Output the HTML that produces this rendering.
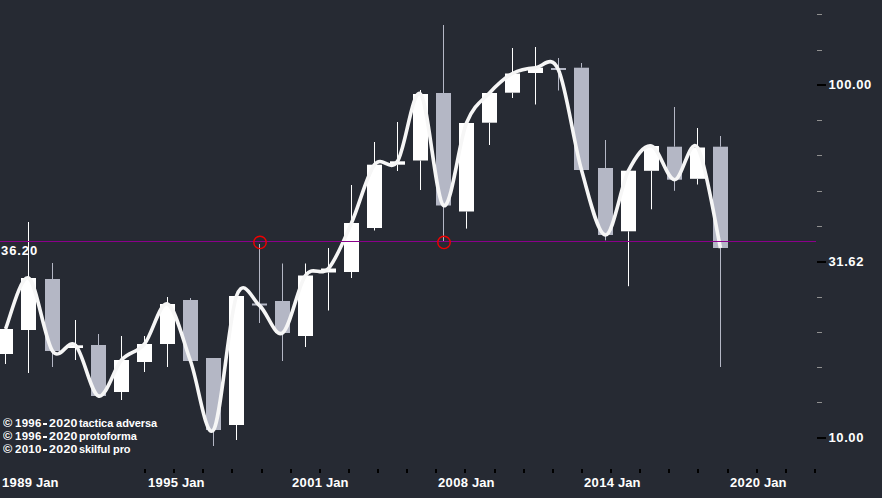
<!DOCTYPE html>
<html><head><meta charset="utf-8"><style>
html,body{margin:0;padding:0;background:#262a33;width:882px;height:498px;overflow:hidden}
body{position:relative;font-family:"Liberation Sans",sans-serif;color:#fff}
svg{position:absolute;left:0;top:0}
.t{position:absolute;font-weight:bold;white-space:nowrap;line-height:1}
.ax{font-size:13px}
.yd{letter-spacing:0.35px}
.yl{font-size:13px;letter-spacing:0.6px}
.cpl{position:absolute;left:0;height:13px;width:200px;font-size:11px;font-weight:bold;line-height:13px}
.cpl span{position:absolute;top:0;white-space:nowrap}
.cpl .dg{letter-spacing:0.3px;transform:scaleX(1.04);transform-origin:0 0}
.cpl .d2{letter-spacing:0.3px;transform:scaleX(1.12)}
.cpl .cs{font-size:12px;font-weight:bold;top:0px;transform:scaleX(1.05);transform-origin:0 0}
.cpl .tx{letter-spacing:-0.1px}
.cpl .ds{position:absolute;top:6px;width:4px;height:2px;background:#fff}
</style></head><body>
<svg width="882" height="498" viewBox="0 0 882 498">
<rect x="5" y="354" width="1" height="10.00" fill="#ffffff"/>
<rect x="-2" y="329" width="15" height="25.00" fill="#ffffff"/>
<rect x="28" y="222" width="1" height="56.00" fill="#ffffff"/>
<rect x="28" y="330" width="1" height="43.00" fill="#ffffff"/>
<rect x="21" y="278" width="15" height="52.00" fill="#ffffff"/>
<rect x="52" y="263" width="1" height="16.00" fill="#b4b7c5"/>
<rect x="52" y="351" width="1" height="16.00" fill="#b4b7c5"/>
<rect x="45" y="279" width="15" height="72.00" fill="#b4b7c5"/>
<rect x="75" y="320" width="1" height="25.30" fill="#ffffff"/>
<rect x="75" y="348" width="1" height="12.00" fill="#ffffff"/>
<rect x="68" y="345.3" width="15" height="2.70" fill="#ffffff"/>
<rect x="98" y="334" width="1" height="11.00" fill="#b4b7c5"/>
<rect x="91" y="345" width="15" height="51.00" fill="#b4b7c5"/>
<rect x="121" y="336" width="1" height="24.00" fill="#ffffff"/>
<rect x="121" y="392" width="1" height="8.00" fill="#ffffff"/>
<rect x="114" y="360" width="15" height="32.00" fill="#ffffff"/>
<rect x="144" y="336" width="1" height="8.00" fill="#ffffff"/>
<rect x="144" y="362" width="1" height="10.00" fill="#ffffff"/>
<rect x="137" y="344" width="15" height="18.00" fill="#ffffff"/>
<rect x="167" y="297" width="1" height="7.00" fill="#ffffff"/>
<rect x="167" y="344" width="1" height="23.00" fill="#ffffff"/>
<rect x="160" y="304" width="15" height="40.00" fill="#ffffff"/>
<rect x="190" y="298" width="1" height="2.00" fill="#b4b7c5"/>
<rect x="183" y="300" width="15" height="61.00" fill="#b4b7c5"/>
<rect x="213" y="430" width="1" height="16.00" fill="#b4b7c5"/>
<rect x="206" y="358" width="15" height="72.00" fill="#b4b7c5"/>
<rect x="236" y="425" width="1" height="15.00" fill="#ffffff"/>
<rect x="229" y="296" width="15" height="129.00" fill="#ffffff"/>
<rect x="259" y="244" width="1" height="59.50" fill="#b4b7c5"/>
<rect x="259" y="305.5" width="1" height="17.50" fill="#b4b7c5"/>
<rect x="252" y="303.5" width="15" height="2.00" fill="#b4b7c5"/>
<rect x="282" y="263.5" width="1" height="37.50" fill="#b4b7c5"/>
<rect x="282" y="333" width="1" height="28.00" fill="#b4b7c5"/>
<rect x="275" y="301" width="15" height="32.00" fill="#b4b7c5"/>
<rect x="305" y="263.5" width="1" height="12.00" fill="#ffffff"/>
<rect x="305" y="336" width="1" height="11.00" fill="#ffffff"/>
<rect x="298" y="275.5" width="15" height="60.50" fill="#ffffff"/>
<rect x="328" y="248" width="1" height="20.50" fill="#ffffff"/>
<rect x="328" y="272.5" width="1" height="38.00" fill="#ffffff"/>
<rect x="321" y="268.5" width="15" height="4.00" fill="#ffffff"/>
<rect x="351" y="185" width="1" height="38.00" fill="#ffffff"/>
<rect x="351" y="272" width="1" height="6.00" fill="#ffffff"/>
<rect x="344" y="223" width="15" height="49.00" fill="#ffffff"/>
<rect x="374" y="142" width="1" height="22.70" fill="#ffffff"/>
<rect x="374" y="228" width="1" height="2.50" fill="#ffffff"/>
<rect x="367" y="164.7" width="15" height="63.30" fill="#ffffff"/>
<rect x="397" y="122" width="1" height="39.30" fill="#ffffff"/>
<rect x="397" y="164.7" width="1" height="6.30" fill="#ffffff"/>
<rect x="390" y="161.3" width="15" height="3.40" fill="#ffffff"/>
<rect x="420" y="90" width="1" height="4.00" fill="#ffffff"/>
<rect x="420" y="160.5" width="1" height="29.50" fill="#ffffff"/>
<rect x="413" y="94" width="15" height="66.50" fill="#ffffff"/>
<rect x="443" y="25" width="1" height="68.00" fill="#b4b7c5"/>
<rect x="443" y="205.5" width="1" height="35.50" fill="#b4b7c5"/>
<rect x="436" y="93" width="15" height="112.50" fill="#b4b7c5"/>
<rect x="466" y="211.5" width="1" height="17.10" fill="#ffffff"/>
<rect x="459" y="123" width="15" height="88.50" fill="#ffffff"/>
<rect x="489" y="122.7" width="1" height="22.30" fill="#ffffff"/>
<rect x="482" y="93" width="15" height="29.70" fill="#ffffff"/>
<rect x="512" y="48" width="1" height="25.50" fill="#ffffff"/>
<rect x="512" y="92.7" width="1" height="5.30" fill="#ffffff"/>
<rect x="505" y="73.5" width="15" height="19.20" fill="#ffffff"/>
<rect x="535" y="47" width="1" height="20.70" fill="#ffffff"/>
<rect x="535" y="73" width="1" height="31.50" fill="#ffffff"/>
<rect x="528" y="67.7" width="15" height="5.30" fill="#ffffff"/>
<rect x="558" y="58" width="1" height="10.00" fill="#b4b7c5"/>
<rect x="558" y="70" width="1" height="20.50" fill="#b4b7c5"/>
<rect x="551" y="68" width="15" height="2.00" fill="#b4b7c5"/>
<rect x="581" y="63" width="1" height="4.70" fill="#b4b7c5"/>
<rect x="574" y="67.7" width="15" height="102.30" fill="#b4b7c5"/>
<rect x="605" y="140" width="1" height="28.00" fill="#b4b7c5"/>
<rect x="605" y="235" width="1" height="5.40" fill="#b4b7c5"/>
<rect x="598" y="168" width="15" height="67.00" fill="#b4b7c5"/>
<rect x="628" y="231.3" width="1" height="54.90" fill="#ffffff"/>
<rect x="621" y="170.7" width="15" height="60.60" fill="#ffffff"/>
<rect x="651" y="170.8" width="1" height="38.50" fill="#ffffff"/>
<rect x="644" y="146" width="15" height="24.80" fill="#ffffff"/>
<rect x="674" y="107" width="1" height="39.70" fill="#b4b7c5"/>
<rect x="674" y="179.7" width="1" height="11.10" fill="#b4b7c5"/>
<rect x="667" y="146.7" width="15" height="33.00" fill="#b4b7c5"/>
<rect x="697" y="128" width="1" height="19.50" fill="#ffffff"/>
<rect x="697" y="178.8" width="1" height="5.70" fill="#ffffff"/>
<rect x="690" y="147.5" width="15" height="31.30" fill="#ffffff"/>
<rect x="720" y="136" width="1" height="10.70" fill="#b4b7c5"/>
<rect x="720" y="248" width="1" height="119.00" fill="#b4b7c5"/>
<rect x="713" y="146.7" width="15" height="101.30" fill="#b4b7c5"/>
<path d="M5.50,329.00 C9.33,320.50 20.67,274.33 28.50,278.00 C36.33,281.67 44.67,339.78 52.50,351.00 C60.33,362.22 67.83,337.80 75.50,345.30 C83.17,352.80 90.83,393.55 98.50,396.00 C106.17,398.45 113.83,368.67 121.50,360.00 C129.17,351.33 136.83,353.33 144.50,344.00 C152.17,334.67 159.83,301.17 167.50,304.00 C175.17,306.83 182.83,340.00 190.50,361.00 C198.17,382.00 205.83,440.83 213.50,430.00 C221.17,419.17 228.83,316.75 236.50,296.00 C244.17,275.25 251.83,299.33 259.50,305.50 C267.17,311.67 274.83,338.00 282.50,333.00 C290.17,328.00 297.83,286.25 305.50,275.50 C313.17,264.75 320.83,277.25 328.50,268.50 C336.17,259.75 343.83,240.30 351.50,223.00 C359.17,205.70 366.83,174.98 374.50,164.70 C382.17,154.42 389.83,173.08 397.50,161.30 C405.17,149.52 412.83,86.63 420.50,94.00 C428.17,101.37 435.83,200.67 443.50,205.50 C451.17,210.33 458.83,141.75 466.50,123.00 C474.17,104.25 481.83,101.25 489.50,93.00 C497.17,84.75 504.83,77.72 512.50,73.50 C520.17,69.28 527.83,68.28 535.50,67.70 C543.17,67.12 550.83,52.95 558.50,70.00 C566.17,87.05 573.67,142.50 581.50,170.00 C589.33,197.50 597.67,234.88 605.50,235.00 C613.33,235.12 620.83,185.53 628.50,170.70 C636.17,155.87 643.83,144.50 651.50,146.00 C659.17,147.50 666.83,179.45 674.50,179.70 C682.17,179.95 689.83,136.12 697.50,147.50 C705.17,158.88 716.67,231.25 720.50,248.00" fill="none" stroke="#f6f6f6" stroke-width="3.6" stroke-linecap="butt" stroke-linejoin="round"/>
<rect x="0" y="241" width="816" height="1" fill="#8b008b"/>
<circle cx="260" cy="242.4" r="6.2" fill="none" stroke="#f00000" stroke-width="1.4"/>
<circle cx="444" cy="242.4" r="6.2" fill="none" stroke="#f00000" stroke-width="1.4"/>
<rect x="817" y="14" width="5" height="1" fill="#909090"/>
<rect x="817" y="50" width="5" height="1" fill="#909090"/>
<rect x="817" y="120" width="5" height="1" fill="#909090"/>
<rect x="817" y="155" width="5" height="1" fill="#909090"/>
<rect x="817" y="191" width="5" height="1" fill="#909090"/>
<rect x="817" y="226" width="5" height="1" fill="#909090"/>
<rect x="817" y="297" width="5" height="1" fill="#909090"/>
<rect x="817" y="332" width="5" height="1" fill="#909090"/>
<rect x="817" y="367" width="5" height="1" fill="#909090"/>
<rect x="817" y="402" width="5" height="1" fill="#909090"/>
<rect x="817" y="84" width="9" height="2" fill="#000"/>
<rect x="817" y="261" width="9" height="2" fill="#000"/>
<rect x="817" y="437" width="9" height="2" fill="#000"/>
<rect x="144" y="469" width="2" height="4" fill="#000"/>
<rect x="173" y="469" width="2" height="4" fill="#000"/>
<rect x="202" y="469" width="2" height="4" fill="#000"/>
<rect x="231" y="469" width="2" height="4" fill="#000"/>
<rect x="261" y="469" width="2" height="4" fill="#000"/>
<rect x="290" y="469" width="2" height="4" fill="#000"/>
<rect x="319" y="469" width="2" height="4" fill="#000"/>
<rect x="348" y="469" width="2" height="4" fill="#000"/>
<rect x="377" y="469" width="2" height="4" fill="#000"/>
<rect x="406" y="469" width="2" height="4" fill="#000"/>
<rect x="435" y="469" width="2" height="4" fill="#000"/>
<rect x="464" y="469" width="2" height="4" fill="#000"/>
<rect x="494" y="469" width="2" height="4" fill="#000"/>
<rect x="523" y="469" width="2" height="4" fill="#000"/>
<rect x="552" y="469" width="2" height="4" fill="#000"/>
<rect x="581" y="469" width="2" height="4" fill="#000"/>
<rect x="610" y="469" width="2" height="4" fill="#000"/>
<rect x="639" y="469" width="2" height="4" fill="#000"/>
<rect x="668" y="469" width="2" height="4" fill="#000"/>
<rect x="697" y="469" width="2" height="4" fill="#000"/>
<rect x="727" y="469" width="2" height="4" fill="#000"/>
<rect x="756" y="469" width="2" height="4" fill="#000"/>
<rect x="785" y="469" width="2" height="4" fill="#000"/>
<rect x="814" y="469" width="2" height="4" fill="#000"/>
</svg>
<div class="t yl" style="left:1px;top:244px;letter-spacing:0.9px">36.20</div>
<div class="t yl" style="left:828.5px;top:78px">100.00</div>
<div class="t yl" style="left:828.5px;top:255px">31.62</div>
<div class="t yl" style="left:828.5px;top:431px">10.00</div>
<div class="t ax" style="left:2px;top:476px"><span class="yd">1989</span> Jan</div>
<div class="t ax" style="left:148px;top:476px"><span class="yd">1995</span> Jan</div>
<div class="t ax" style="left:292px;top:476px"><span class="yd">2001</span> Jan</div>
<div class="t ax" style="left:438px;top:476px"><span class="yd">2008</span> Jan</div>
<div class="t ax" style="left:584px;top:476px"><span class="yd">2014</span> Jan</div>
<div class="t ax" style="left:730px;top:476px"><span class="yd">2020</span> Jan</div>
<div class="cpl" style="top:417px"><span class="cs" style="left:3px">&copy;</span><span class="dg" style="left:14.5px">1996</span><i class="ds" style="left:43px"></i><span class="dg d2" style="left:49.3px">2020</span><span class="tx" style="left:79px">tactica adversa</span></div>
<div class="cpl" style="top:430px"><span class="cs" style="left:3px">&copy;</span><span class="dg" style="left:14.5px">1996</span><i class="ds" style="left:43px"></i><span class="dg d2" style="left:49.3px">2020</span><span class="tx" style="left:79px">protoforma</span></div>
<div class="cpl" style="top:443px"><span class="cs" style="left:3px">&copy;</span><span class="dg" style="left:14.5px">2010</span><i class="ds" style="left:43px"></i><span class="dg d2" style="left:49.3px">2020</span><span class="tx" style="left:79px">skilful pro</span></div>
</body></html>
